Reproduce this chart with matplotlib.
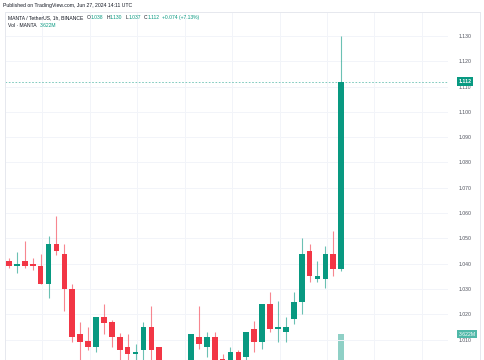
import matplotlib
matplotlib.use("Agg")
import matplotlib.pyplot as plt
from matplotlib.patches import Rectangle
import numpy as np

# ---- data (MANTA/USDT 1h) ----
opens  = [1.0411, 1.0391, 1.0411, 1.0400, 1.0390, 1.0321, 1.0479, 1.0440, 1.0300, 1.0121,
          1.0093, 1.0071, 1.0188, 1.0168, 1.0111, 1.0072, 1.0042, 1.0060, 1.0150, 1.0071,
          0.9995, 0.9980, 0.9990, 1.0000, 1.0110, 1.0071, 1.0110, 1.0023, 1.0000, 1.0051,
          1.0031, 1.0142, 1.0092, 1.0241, 1.0142, 1.0131, 1.0182, 1.0250, 1.0450, 1.0340,
          1.0340, 1.0440, 1.0380]
highs  = [1.0421, 1.0447, 1.0490, 1.0421, 1.0440, 1.0510, 1.0589, 1.0479, 1.0319, 1.0171,
          1.0151, 1.0188, 1.0241, 1.0178, 1.0125, 1.0121, 1.0081, 1.0171, 1.0234, 1.0072,
          1.0010, 1.0005, 1.0015, 1.0121, 1.0234, 1.0131, 1.0130, 1.0042, 1.0072, 1.0060,
          1.0131, 1.0172, 1.0241, 1.0289, 1.0253, 1.0191, 1.0289, 1.0500, 1.0479, 1.0411,
          1.0469, 1.0530, 1.1300]
lows   = [1.0382, 1.0363, 1.0382, 1.0375, 1.0321, 1.0263, 1.0434, 1.0213, 1.0092, 1.0000,
          1.0059, 1.0052, 1.0121, 1.0072, 1.0010, 1.0000, 1.0005, 1.0010, 1.0005, 0.9985,
          0.9960, 0.9950, 0.9970, 0.9990, 1.0063, 1.0032, 0.9990, 0.9990, 0.9990, 0.9995,
          1.0015, 1.0052, 1.0063, 1.0131, 1.0092, 1.0092, 1.0162, 1.0201, 1.0329, 1.0329,
          1.0303, 1.0353, 1.0370]
closes = [1.0390, 1.0398, 1.0391, 1.0391, 1.0321, 1.0479, 1.0450, 1.0300, 1.0110, 1.0092,
          1.0071, 1.0188, 1.0166, 1.0110, 1.0060, 1.0042, 1.0052, 1.0150, 1.0060, 0.9995,
          0.9980, 0.9990, 1.0000, 1.0121, 1.0081, 1.0110, 1.0005, 1.0000, 1.0051, 1.0015,
          1.0131, 1.0092, 1.0241, 1.0142, 1.0151, 1.0151, 1.0250, 1.0440, 1.0350, 1.0350,
          1.0440, 1.0380, 1.1120]
volumes_m = [0.9, 0.6, 0.7, 0.5, 1.0, 1.6, 1.1, 1.4, 2.0, 1.2,
             0.9, 1.3, 0.8, 0.9, 1.0, 0.8, 0.5, 1.1, 1.0, 1.2,
             0.9, 0.8, 0.7, 1.0, 0.9, 0.6, 0.8, 0.7, 0.6, 0.6,
             0.9, 0.8, 1.2, 1.1, 0.7, 0.6, 1.0, 1.9, 1.3, 0.7,
             1.1, 1.0, 3.622]
price_ticks = [1.010, 1.020, 1.030, 1.040, 1.050, 1.060, 1.070, 1.080, 1.090, 1.100,
               1.110, 1.120, 1.130]
last_price = 1.112
last_volume_label = "3.622M"
header = "Published on TradingView.com, Jun 27, 2024 14:11 UTC"
symbol = "MANTA / TetherUS, 1h, BINANCE"
ohlc_parts = [("O", "1.038"), ("H", "1.130"), ("L", "1.037"), ("C", "1.112")]
change_text = "+0.074 (+7.13%)"

UP = "#089981"
DOWN = "#F23645"
VOL_UP = "#8fd0c6"
TXT = "#131722"
GRID = "#f2f4f9"

W, H, DPI = 485, 360, 100
fig = plt.figure(figsize=(W / DPI, H / DPI), dpi=DPI)
fig.patch.set_facecolor("white")
plt.rcParams['font.family'] = ['Liberation Sans', 'DejaVu Sans']

def fx(px):
    return px / W

def fy(py):
    return 1 - py / H

ax_left, ax_right, ax_top, ax_bottom = 5, 448, 12, 360
ax = fig.add_axes([fx(ax_left), fy(ax_bottom), fx(ax_right - ax_left), fy(ax_top) - fy(ax_bottom)])
ax.set_facecolor("white")

# x scale: candle 0 at pixel 9, spacing 7.91 px
sp = 7.91
x0 = 9
xlim = ((ax_left - x0) / sp, (ax_right - x0) / sp)
ax.set_xlim(*xlim)
# y scale: 1.130 at pixel 36, 2530 px per unit
ppu = 2530.0
ax.set_ylim(1.130 - (ax_bottom - 36) / ppu, 1.130 + (36 - ax_top) / ppu)

n = len(opens)
xs = np.arange(n)
bw = 0.72

# volume overlay (baseline below visible area), drawn behind candles
axv = ax.twinx()
axv.set_zorder(ax.get_zorder() - 1)
ax.patch.set_visible(False)
axv.patch.set_visible(True)
axv.patch.set_facecolor("white")
axv.set_xlim(*xlim)
axv.bar(xs, volumes_m, width=bw,
        color=[VOL_UP if closes[i] >= opens[i] else "#f7a9a7" for i in range(n)])
vb = 3.0
frac = 26 / (ax_bottom - ax_top)
axv.set_ylim(vb, vb + (3.622 - vb) / frac)
axv.set_yticks([])
for s in axv.spines.values():
    s.set_visible(False)

# grid on volume axes background (drawn under everything)
for t in price_ticks:
    ax.axhline(t, color=GRID, linewidth=0.7, zorder=0)
for gx in np.arange(4.2, 56, 6):
    ax.axvline(gx, color=GRID, linewidth=0.7, zorder=0)

for i in range(n):
    o, h, l, c = opens[i], highs[i], lows[i], closes[i]
    col = UP if c >= o else DOWN
    ax.vlines(xs[i], l, h, color=col, linewidth=0.8, alpha=0.6, zorder=3)
    lo, hi = min(o, c), max(o, c)
    ax.add_patch(Rectangle((xs[i] - bw / 2, lo), bw, max(hi - lo, 0.0003),
                           facecolor=col, edgecolor="none", zorder=4))

# last price line
ax.axhline(last_price, color=UP, linewidth=0.6, linestyle=(0, (2, 2)), alpha=0.6, zorder=2)

for s in ax.spines.values():
    s.set_visible(False)
ax.set_xticks([])
ax.yaxis.tick_right()
ax.set_yticks(price_ticks)
ax.set_yticklabels([f"{t:.3f}" for t in price_ticks], fontsize=3.7, color="#50535e")
ax.tick_params(axis="y", which="both", left=False, right=False, labelleft=False,
               labelright=True, length=0, pad=8)

# price label boxes
def ybox(val):
    return 36 + (1.130 - val) * ppu

fig.text(fx(465), fy(ybox(last_price)), f"{last_price:.3f}", fontsize=3.7, color="white",
         ha="center", va="center", fontweight="bold",
         bbox=dict(boxstyle="square,pad=0.35", facecolor=UP, edgecolor="none"), zorder=10)
fig.text(fx(467), fy(334), last_volume_label, fontsize=3.7, color="white",
         ha="center", va="center",
         bbox=dict(boxstyle="square,pad=0.35", facecolor="#4fb8a8", edgecolor="none"), zorder=10)

# border
bc = "#e6e8ee"
fig.add_artist(plt.Line2D([fx(5), fx(5)], [fy(12), fy(360)], color=bc, linewidth=0.7))
fig.add_artist(plt.Line2D([fx(5), fx(480)], [fy(12), fy(12)], color=bc, linewidth=0.7))
fig.add_artist(plt.Line2D([fx(480), fx(480)], [fy(12), fy(360)], color=bc, linewidth=0.7))

# header texts
fig.text(fx(3), fy(6), header, fontsize=3.7, color=TXT, ha="left", va="center")

fig.canvas.draw()
renderer = fig.canvas.get_renderer()

def put(x, y, s, color, size=3.6):
    t = fig.text(fx(x), fy(y), s, fontsize=size, color=color, ha="left", va="center")
    bb = t.get_window_extent(renderer=renderer)
    return x + bb.width

x = put(8, 17.5, symbol, TXT)
x += 4
for k, v in ohlc_parts:
    x = put(x, 17.5, k, TXT)
    x = put(x, 17.5, v, UP)
    x += 3
x = put(x, 17.5, change_text, UP)

x = put(8, 25.5, "Vol · MANTA", TXT)
x += 3
put(x, 25.5, "3.622M", UP)

fig.savefig("out.png", dpi=DPI, facecolor="white")
